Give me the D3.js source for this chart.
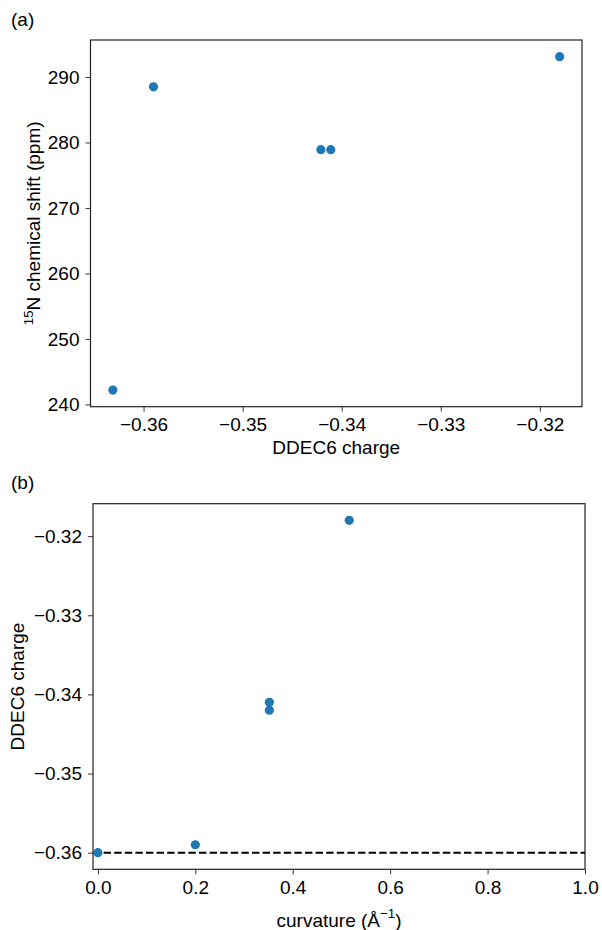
<!DOCTYPE html>
<html>
<head>
<meta charset="utf-8">
<script src="https://cdn.jsdelivr.net/npm/d3@7"></script>
<style>
  body { margin: 0; background: #fff; }
  svg text { font-family: "Liberation Sans", Arial, sans-serif; fill: #000; }
</style>
</head>
<body>
<svg id="chart" width="602" height="930"></svg>
<script>
// panel (a): DDEC6 charge vs 15N shift
let chargeA = [-0.3631, -0.3590, -0.3421, -0.3411, -0.3180];
let shiftA = [242.2, 288.5, 278.9, 278.9, 293.1];
let xTicksA = [-0.36, -0.35, -0.34, -0.33, -0.32];
let yTicksA = [240, 250, 260, 270, 280, 290];

// panel (b): curvature vs DDEC6 charge
let curvB = [0.0, 0.2, 0.352, 0.352, 0.516];
let chargeB = [-0.360, -0.359, -0.341, -0.342, -0.318];
let xTicksB = [0.0, 0.2, 0.4, 0.6, 0.8, 1.0];
let yTicksB = [-0.36, -0.35, -0.34, -0.33, -0.32];
let refLineB = [-0.36];

let svg = d3.select('#chart');
let fontSize = 19;
let dotColor = "#1f77b4";

function pad(ext) {
    let m = (ext[1] - ext[0]) * 0.05;
    return [ext[0] - m, ext[1] + m];
}

function fmt(v, digits) {
    return d3.format("." + digits + "f")(v).replace("-", "\u2212");
}

function drawAxes(g, x, y, xTicks, yTicks, xd, yd) {
    let [x0, x1] = x.range();
    let [y0, y1] = y.range();

    let xAxis = g.append("g")
        .attr("transform", "translate(0," + y0 + ")")
        .call(d3.axisBottom(x).tickValues(xTicks).tickSize(5).tickPadding(6)
            .tickFormat(d => fmt(d, xd)));
    let yAxis = g.append("g")
        .attr("transform", "translate(" + x0 + ",0)")
        .call(d3.axisLeft(y).tickValues(yTicks).tickSize(5).tickPadding(6)
            .tickFormat(d => fmt(d, yd)));

    [xAxis, yAxis].forEach(a => {
        a.select(".domain").remove();
        a.selectAll("line").attr("stroke", "#333").attr("stroke-width", 1);
        a.selectAll("text").attr("font-size", fontSize).attr("fill", "#000")
            .style("font-family", '"Liberation Sans", Arial, sans-serif');
    });

    g.append("rect")
        .attr("x", x0).attr("y", y1)
        .attr("width", x1 - x0).attr("height", y0 - y1)
        .attr("fill", "none").attr("stroke", "#222").attr("stroke-width", 1.2);
}

// ---- panel (a)
let xA = d3.scaleLinear().domain(pad(d3.extent(chargeA))).range([90.5, 582]);
let yA = d3.scaleLinear().domain(pad(d3.extent(shiftA))).range([406.7, 40]);
let gA = svg.append("g");

drawAxes(gA, xA, yA, xTicksA, yTicksA, 2, 0);

gA.selectAll("circle").data(chargeA).enter()
    .append("circle")
    .attr("cx", d => xA(d))
    .attr("cy", (d, i) => yA(shiftA[i]))
    .attr("r", 4.6)
    .attr("fill", dotColor);

gA.append("text")
    .attr("x", (90.5 + 582) / 2).attr("y", 454)
    .attr("text-anchor", "middle").attr("font-size", fontSize)
    .text("DDEC6 charge");

let yLabA = gA.append("text")
    .attr("transform", "translate(40," + (40 + 406.7) / 2 + ") rotate(-90)")
    .attr("text-anchor", "middle").attr("font-size", fontSize);
yLabA.append("tspan").attr("font-size", fontSize * 0.7).attr("dy", -7).text("15");
yLabA.append("tspan").attr("dy", 7).text("N chemical shift (ppm)");

gA.append("text").attr("x", 11).attr("y", 26).attr("font-size", fontSize).text("(a)");

// ---- panel (b)
let xB = d3.scaleLinear().domain([-0.01, 1.0]).range([93, 585]);
let yB = d3.scaleLinear().domain(pad(d3.extent(chargeB))).range([869.3, 503.7]);
let gB = svg.append("g");

drawAxes(gB, xB, yB, xTicksB, yTicksB, 1, 2);

gB.selectAll(".ref").data(refLineB).enter()
    .append("line")
    .attr("x1", xB.range()[0]).attr("x2", xB.range()[1])
    .attr("y1", d => yB(d)).attr("y2", d => yB(d))
    .attr("stroke", "#000").attr("stroke-width", 2)
    .attr("stroke-dasharray", "7.4,3.2");

gB.selectAll("circle").data(curvB).enter()
    .append("circle")
    .attr("cx", d => xB(d))
    .attr("cy", (d, i) => yB(chargeB[i]))
    .attr("r", 4.6)
    .attr("fill", dotColor);

let xLabB = gB.append("text")
    .attr("x", (93 + 585) / 2).attr("y", 927)
    .attr("text-anchor", "middle").attr("font-size", fontSize);
xLabB.append("tspan").text("curvature (\u00c5");
xLabB.append("tspan").attr("font-size", fontSize * 0.7).attr("dy", -9).text("\u22121");
xLabB.append("tspan").attr("dy", 9).text(")");

gB.append("text")
    .attr("transform", "translate(24," + (503.7 + 869.3) / 2 + ") rotate(-90)")
    .attr("text-anchor", "middle").attr("font-size", fontSize)
    .text("DDEC6 charge");

gB.append("text").attr("x", 11).attr("y", 489).attr("font-size", fontSize).text("(b)");
</script>
</body>
</html>
